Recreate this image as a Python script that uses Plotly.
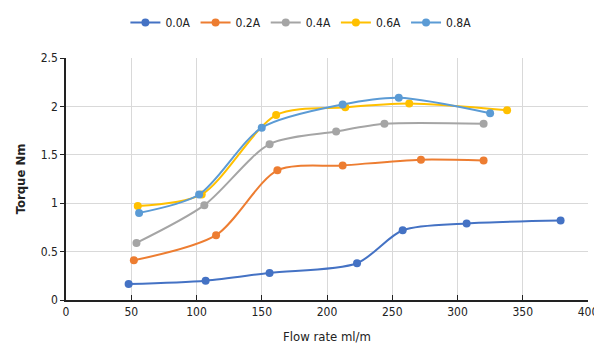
import plotly.graph_objects as go

names = ["0.0A", "0.2A", "0.4A", "0.6A", "0.8A"]
colors = ["#4472C4", "#ED7D31", "#A5A5A5", "#FFC000", "#5B9BD5"]

x_00 = [48, 107, 156, 223, 258, 307, 379]
y_00 = [0.165, 0.20, 0.28, 0.38, 0.72, 0.79, 0.82]

x_02 = [52, 115, 162, 212, 272, 320]
y_02 = [0.41, 0.67, 1.34, 1.39, 1.45, 1.44]

x_04 = [54, 106, 156, 207, 244, 320]
y_04 = [0.59, 0.98, 1.61, 1.74, 1.82, 1.82]

x_06 = [55, 104, 161, 214, 263, 338]
y_06 = [0.97, 1.09, 1.91, 1.99, 2.03, 1.96]

x_08 = [56, 102, 150, 212, 255, 325]
y_08 = [0.90, 1.09, 1.78, 2.02, 2.09, 1.93]

xs = [x_00, x_02, x_04, x_06, x_08]
ys = [y_00, y_02, y_04, y_06, y_08]

font_family = "Liberation Sans Narrow, DejaVu Sans Condensed, Arial, sans-serif"

fig = go.Figure()
for n, c, x, y in zip(names, colors, xs, ys):
    fig.add_trace(go.Scatter(
        x=x, y=y, name=n, mode="lines+markers",
        line=dict(color=c, width=2, shape="spline", smoothing=0.8),
        marker=dict(color=c, size=8),
    ))

fig.update_layout(
    width=602, height=353,
    margin=dict(l=57, r=20, t=50, b=61),
    paper_bgcolor="white", plot_bgcolor="white",
    font=dict(family=font_family, size=12, color="#222222"),
    showlegend=True,
    legend=dict(orientation="h", x=0.45, xanchor="center", y=1.0, yref="container",
                yanchor="top", font=dict(size=12, color="#222222"),
                itemwidth=30, traceorder="normal"),
    xaxis=dict(
        range=[0, 400], dtick=50, tick0=0,
        showgrid=True, gridcolor="#D9D9D9", gridwidth=1,
        showline=True, linecolor="#222222", linewidth=1.5,
        ticks="inside", ticklen=5, tickcolor="#222222",
        zeroline=False,
        title=dict(text="Flow rate ml/m", font=dict(size=13, color="#222222"), standoff=14),
    ),
    yaxis=dict(
        range=[0, 2.5], dtick=0.5, tick0=0,
        showgrid=True, gridcolor="#D9D9D9", gridwidth=1,
        showline=True, linecolor="#222222", linewidth=1.5,
        ticks="outside", ticklen=4, tickcolor="#222222",
        zeroline=False,
        title=dict(text="<b>Torque Nm</b>", font=dict(size=13, color="#222222"), standoff=12),
    ),
)

fig.write_html("out.html")
